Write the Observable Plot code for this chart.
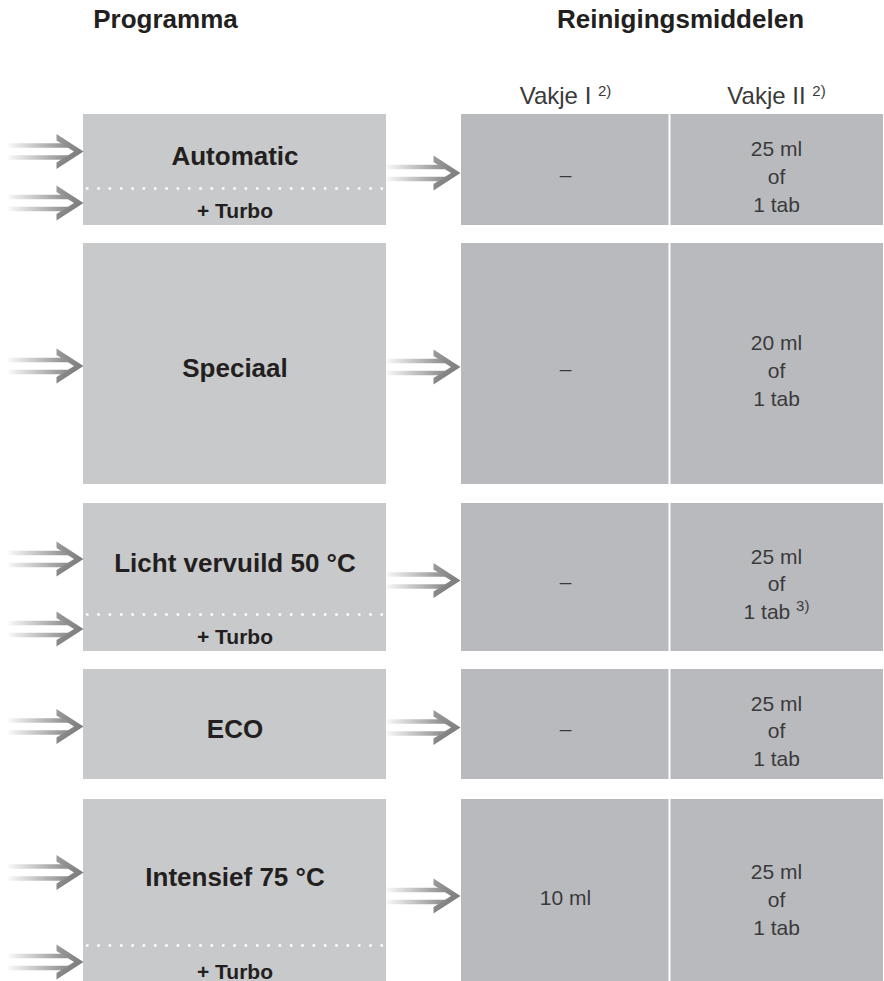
<!DOCTYPE html>
<html>
<head>
<meta charset="utf-8">
<script src="https://cdn.jsdelivr.net/npm/d3@7"></script>
<script src="https://cdn.jsdelivr.net/npm/@observablehq/plot@0.6"></script>
<style>
  html, body { margin: 0; padding: 0; background: #fff; overflow: hidden; }
  #chart svg { display: block; }
</style>
</head>
<body>
<div id="chart"></div>
<script>
// ---------- DATA ----------
const sectionTitles = ["Programma", "Reinigingsmiddelen"];
const compartments = ["Vakje I", "Vakje II"];
const compartmentNote = "2)";
const programs = ["Automatic", "Speciaal", "Licht vervuild 50 °C", "ECO", "Intensief 75 °C"];
const hasTurbo = [true, false, true, false, true];
const turboLabel = "+ Turbo";
const compartmentI = ["–", "–", "–", "–", "10 ml"];
const compartmentII = [
  "25 ml\nof\n1 tab",
  "20 ml\nof\n1 tab",
  "25 ml\nof\n1 tab 3)",
  "25 ml\nof\n1 tab",
  "25 ml\nof\n1 tab"
];

// ---------- LAYOUT (pixels) ----------
const W = 884, H = 981;
const L = {
  rowTop:    [114, 243, 503, 669, 799],
  rowBottom: [225, 484, 651, 779, 986],
  turboSplit:[188, null, 614, null, 945],
  progX1: 83, progX2: 386,
  detX1: 461, detX2: 883, colSplit: 669,
  inX1: 8, inX2: 83,
  outX1: 386, outX2: 460,
  titleY: 27, titleX: [165, 680],
  headY: 103
};
const colMid = [(L.detX1 + L.colSplit) / 2, (L.colSplit + L.detX2) / 2];
const progMid = (L.progX1 + L.progX2) / 2;

const rows = programs.map((p, i) => {
  const top = L.rowTop[i], bottom = L.rowBottom[i];
  const split = hasTurbo[i] ? L.turboSplit[i] : null;
  const mainMid = (top + (split ?? bottom)) / 2;
  return {
    program: p, turbo: hasTurbo[i], c1: compartmentI[i], c2: compartmentII[i],
    top, bottom, split, mainMid,
    labelY: mainMid + 13,
    turboY: bottom - 8,
    mid: (top + bottom) / 2
  };
});

// arrows (double-line arrow with open chevron head)
const arrows = [];
rows.forEach(r => {
  if (r.turbo) {
    arrows.push({x1: L.inX1, x2: L.inX2, c: r.mainMid});
    arrows.push({x1: L.inX1, x2: L.inX2, c: (r.split + r.bottom) / 2 - 4});
  } else {
    arrows.push({x1: L.inX1, x2: L.inX2, c: r.mid + 2});
  }
  arrows.push({x1: L.outX1, x2: L.outX2, c: r.mid + 3});
});
const headLen = 27, headHalf = 17.5, innerHalf = 11, apexIn = 9.5;
const lineOut = 8.3, lineIn = 3.7;
const heads = [], shafts = [];
arrows.forEach((a, k) => {
  const T = a.x2, b = T - headLen, c = a.c;
  [[b, c - headHalf], [T, c], [b, c + headHalf], [b, c + innerHalf], [T - apexIn, c], [b, c - innerHalf]]
    .forEach(([x, y]) => heads.push({x, y, k}));
  const span = T - apexIn - b;
  const xAt = d => b + ((innerHalf - d) / innerHalf) * span + 0.6; // where shaft edge meets inner arm edge
  [-1, 1].forEach(s => {
    const id = k * 2 + (s > 0 ? 1 : 0);
    [[a.x1, c + s * lineOut], [xAt(lineOut), c + s * lineOut], [xAt(lineIn), c + s * lineIn], [a.x1, c + s * lineIn]]
      .forEach(([x, y]) => shafts.push({x, y, k: id}));
  });
});

const titles = sectionTitles.map((t, i) => ({t, x: L.titleX[i], y: L.titleY}));
const colHeads = compartments.map((c, i) => ({t: c + " " + compartmentNote, x: colMid[i], y: L.headY}));
const turboRows = rows.filter(r => r.turbo);

const baseFont = "'Liberation Sans', Arial, sans-serif";
const textDark = "#231f20";
const textReg = "#3a3a3a";

const plot = Plot.plot({
  width: W, height: H,
  margin: 0,
  x: {domain: [0, W], range: [0, W], axis: null},
  y: {domain: [0, H], range: [0, H], axis: null},
  style: {fontFamily: baseFont, background: "#ffffff"},
  marks: [
    // program boxes
    Plot.rect(rows, {x1: () => L.progX1, x2: () => L.progX2, y1: "top", y2: "bottom", fill: "#c8c9cb"}),
    // detergent boxes
    Plot.rect(rows, {x1: () => L.detX1, x2: () => L.detX2, y1: "top", y2: "bottom", fill: "#b9babe"}),
    // column separator
    Plot.ruleX(rows, {x: () => L.colSplit, y1: "top", y2: "bottom", stroke: "#ffffff", strokeWidth: 2}),
    // turbo dotted divider
    Plot.ruleY(turboRows, {y: "split", x1: () => L.progX1 + 3, x2: () => L.progX2 - 3, stroke: "#ffffff", strokeWidth: 2.5, strokeDasharray: "2.5 8.83"}),
    // arrows
    Plot.line(shafts, {x: "x", y: "y", z: "k", fill: "url(#shaftGrad)", stroke: "none", curve: "linear-closed"}),
    Plot.line(heads, {x: "x", y: "y", z: "k", fill: "url(#headGrad)", stroke: "none", curve: "linear-closed"}),
    // section titles
    Plot.text(titles, {x: "x", y: "y", text: "t", fontSize: 26, fontWeight: "bold", fill: textDark, lineAnchor: "bottom"}),
    // compartment headers
    Plot.text(colHeads, {x: "x", y: "y", text: "t", fontSize: 24, fill: textReg, lineAnchor: "bottom"}),
    // program labels
    Plot.text(rows, {x: () => progMid, y: "labelY", text: "program", fontSize: 26, fontWeight: "bold", fill: textDark, lineAnchor: "bottom"}),
    Plot.text(turboRows, {x: () => progMid, y: "turboY", text: () => turboLabel, fontSize: 21, fontWeight: "bold", fill: textDark, lineAnchor: "bottom"}),
    // compartment contents
    Plot.text(rows, {x: () => colMid[0], y: d => d.mid + 5, text: "c1", fontSize: 21, fill: textReg}),
    Plot.text(rows, {x: () => colMid[1], y: d => d.mid + 5, text: "c2", fontSize: 21, fill: textReg, lineHeight: 1.33})
  ]
});

// gradients
const svg = d3.select(plot);
const defs = svg.insert("defs", ":first-child");
const g1 = defs.append("linearGradient").attr("id", "shaftGrad").attr("x1", 0).attr("x2", 1).attr("y1", 0).attr("y2", 0);
g1.append("stop").attr("offset", 0).attr("stop-color", "#f8f8f8");
g1.append("stop").attr("offset", 1).attr("stop-color", "#8a8a8a");
const g2 = defs.append("linearGradient").attr("id", "headGrad").attr("x1", 0).attr("x2", 1).attr("y1", 0).attr("y2", 1);
g2.append("stop").attr("offset", 0).attr("stop-color", "#9c9c9c");
g2.append("stop").attr("offset", 1).attr("stop-color", "#727272");

// superscript notes
svg.selectAll("text, tspan").each(function() {
  const el = this;
  if (el.childNodes.length !== 1 || el.firstChild.nodeType !== 3) return;
  const m = el.textContent.match(/^(.*) (\d\))$/);
  if (!m) return;
  el.textContent = m[1] + " ";
  const sup = document.createElementNS("http://www.w3.org/2000/svg", "tspan");
  sup.setAttribute("dy", "-8");
  sup.setAttribute("font-size", "15");
  sup.textContent = m[2];
  el.appendChild(sup);
});

document.getElementById("chart").appendChild(plot);
</script>
</body>
</html>
